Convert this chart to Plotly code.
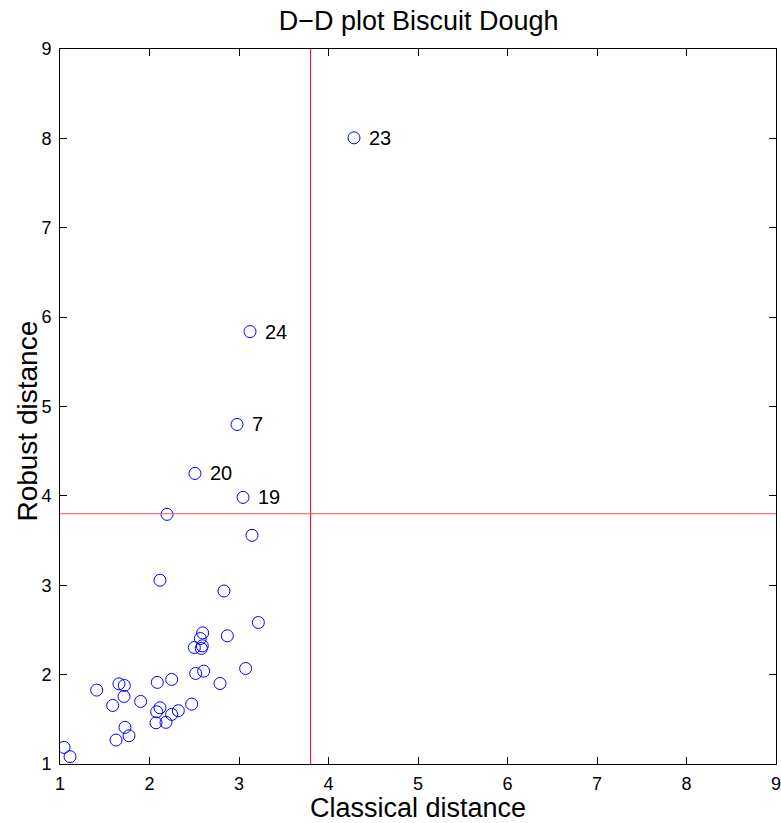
import plotly.graph_objects as go

# Classical (x) and robust (y) distances for each observation
classical = [4.285, 3.123, 2.978, 2.508, 3.045, 2.196, 3.145, 2.117, 2.832, 3.216,
             2.594, 2.568, 2.870, 2.501, 2.590, 2.579, 2.516, 2.605, 3.074, 2.788,
             2.248, 2.087, 1.410, 1.659, 1.719, 1.715, 1.589, 1.901, 2.471, 2.117,
             2.080, 2.322, 2.248, 2.073, 2.184, 1.726, 1.771, 1.626, 1.045, 1.112]
robust = [8.006, 5.838, 4.799, 4.251, 3.983, 3.793, 3.559, 3.056, 2.936, 2.583,
          2.467, 2.404, 2.434, 2.304, 2.322, 2.293, 2.013, 2.039, 2.069, 1.901,
          1.946, 1.913, 1.827, 1.897, 1.879, 1.756, 1.655, 1.700, 1.670, 1.629,
          1.585, 1.596, 1.555, 1.461, 1.466, 1.410, 1.316, 1.268, 1.186, 1.082]

# Labelled outliers
outlier_ids = ["23", "24", "7", "20", "19"]
outlier_x = [4.285, 3.123, 2.978, 2.508, 3.045]
outlier_y = [8.006, 5.838, 4.799, 4.251, 3.983]

cutoff_x = 3.80
cutoff_y = 3.80

ticks = [1, 2, 3, 4, 5, 6, 7, 8, 9]

font_family = "Liberation Sans, Arial, Helvetica, sans-serif"

fig = go.Figure()

fig.add_trace(go.Scatter(
    x=classical, y=robust, mode="markers",
    marker=dict(symbol="circle-open", size=12, color="#0000ff",
                line=dict(width=1, color="#0000ff")),
    showlegend=False, hoverinfo="x+y",
))

for lab, xv, yv in zip(outlier_ids, outlier_x, outlier_y):
    fig.add_annotation(x=xv, y=yv, text=lab, showarrow=False,
                       xanchor="left", yanchor="middle", xshift=13,
                       font=dict(size=20, color="black", family=font_family))

fig.add_shape(type="line", xref="x", yref="paper", x0=cutoff_x, x1=cutoff_x,
              y0=0, y1=1, line=dict(color="red", width=1))
fig.add_shape(type="line", xref="paper", yref="y", x0=0, x1=1,
              y0=cutoff_y, y1=cutoff_y, line=dict(color="#ff5050", width=1))

# axis titles placed as text in the margins
fig.add_annotation(text="Robust distance", xref="paper", yref="paper",
                   x=-0.045, y=0.48, xanchor="center", yanchor="middle",
                   textangle=-90, showarrow=False,
                   font=dict(size=28, color="black", family=font_family))
fig.add_annotation(text="Classical distance", xref="paper", yref="paper",
                   x=0.5, y=-0.0825, xanchor="center", yanchor="bottom",
                   showarrow=False, yshift=-2,
                   font=dict(size=27, color="black", family=font_family))

axis_common = dict(
    range=[1, 9], tickmode="array", tickvals=ticks,
    ticktext=[str(t) for t in ticks], automargin=False,
    ticklabeloverflow="allow",
    showgrid=False, zeroline=False, showline=True, linecolor="black",
    linewidth=1, mirror="ticks", ticks="inside", ticklen=7,
    tickcolor="black", tickfont=dict(size=18, color="black", family=font_family),
)

fig.update_layout(
    width=781, height=823,
    margin=dict(l=60, r=5, t=49, b=59),
    paper_bgcolor="white", plot_bgcolor="white",
    title=dict(text="D\u2212D plot Biscuit Dough", x=0.536, xanchor="center",
               xref="container", y=0.975, yanchor="middle",
               font=dict(size=27, color="black", family=font_family)),
    xaxis=dict(axis_common, ticklabelstandoff=3),
    yaxis=dict(axis_common, ticklabelstandoff=4),
)

fig.write_html("out.html")
